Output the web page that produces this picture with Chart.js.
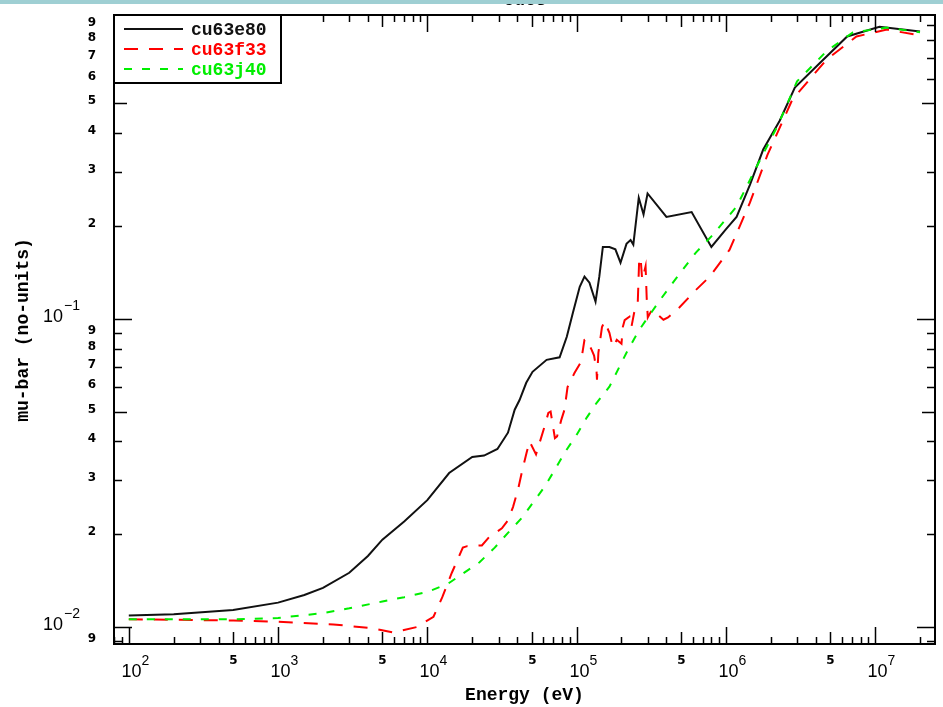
<!DOCTYPE html>
<html>
<head>
<meta charset="utf-8">
<script src="https://cdn.jsdelivr.net/npm/chart.js@4.4.0/dist/chart.umd.min.js"></script>
<style>
  html, body { margin: 0; padding: 0; background: #fff; }
  canvas { display: block; }
</style>
</head>
<body>
<canvas id="chart" width="943" height="707"></canvas>
<script>
// values (energy in eV, mu-bar)
const e80Energy = [100, 200, 500, 1000, 1500, 2000, 3000, 4000, 5000, 7000, 10000, 14000, 20000, 24000, 29500, 34700, 38500, 41500, 46000, 50700, 63000, 77000, 86000, 94500, 105000, 113000, 122000, 134000, 142000, 150000, 166000, 182000, 197000, 216000, 230000, 240000, 261000, 281000, 299000, 400000, 590000, 800000, 1000000, 1180000, 1450000, 1780000, 2300000, 2900000, 4300000, 6500000, 10700000, 20000000];
const e80Mu = [0.0109, 0.0110, 0.01135, 0.0120, 0.0127, 0.0134, 0.0150, 0.0170, 0.0192, 0.0220, 0.0258, 0.0316, 0.0356, 0.0360, 0.0378, 0.0427, 0.0507, 0.0545, 0.0620, 0.0673, 0.0736, 0.0750, 0.0874, 0.1046, 0.127, 0.137, 0.131, 0.1136, 0.137, 0.171, 0.171, 0.168, 0.152, 0.175, 0.180, 0.174, 0.247, 0.218, 0.255, 0.214, 0.222, 0.171, 0.195, 0.214, 0.272, 0.354, 0.440, 0.562, 0.678, 0.824, 0.885, 0.855];

const f33Energy = [100, 500, 1000, 2350, 4300, 5900, 8500, 11000, 12600, 14600, 17300, 18500, 23200, 26000, 31600, 34700, 37500, 40500, 43000, 46200, 48400, 53500, 56000, 61000, 64700, 67000, 71600, 74000, 79000, 83000, 87000, 97000, 107000, 113000, 116000, 126000, 131000, 136000, 137000, 140000, 148000, 154000, 166000, 172000, 176000, 186000, 200000, 204000, 210000, 226000, 233000, 243000, 257000, 263000, 270000, 275000, 283000, 290000, 295000, 300000, 320000, 350000, 382000, 410000, 490000, 630000, 780000, 1060000, 1450000, 1900000, 2790000, 4730000, 7500000, 12000000, 20000000];
const f33Mu = [0.0106, 0.0105, 0.0104, 0.0102, 0.0099, 0.0096, 0.0100, 0.0108, 0.0125, 0.0150, 0.0181, 0.0183, 0.0184, 0.0196, 0.0209, 0.0222, 0.0245, 0.0279, 0.0318, 0.0367, 0.0400, 0.0363, 0.0390, 0.0447, 0.0495, 0.0500, 0.0410, 0.0415, 0.0470, 0.0507, 0.0600, 0.0668, 0.0724, 0.0855, 0.0860, 0.0794, 0.0760, 0.0680, 0.0634, 0.0775, 0.0940, 0.0980, 0.0900, 0.0836, 0.0810, 0.0855, 0.0830, 0.0940, 0.0990, 0.1015, 0.0940, 0.1045, 0.1127, 0.158, 0.152, 0.134, 0.141, 0.148, 0.117, 0.101, 0.107, 0.103, 0.0993, 0.101, 0.109, 0.124, 0.137, 0.1675, 0.238, 0.340, 0.514, 0.693, 0.824, 0.867, 0.830];

const j40Energy = [100, 500, 1000, 2000, 3000, 5000, 7000, 10000, 13700, 17300, 22300, 28300, 34700, 43000, 51000, 61000, 71600, 83000, 100000, 117000, 136000, 166000, 216000, 263000, 309000, 372000, 442000, 630000, 800000, 1180000, 1600000, 2240000, 3000000, 4700000, 7100000, 12000000, 20000000];
const j40Mu = [0.0106, 0.0106, 0.0107, 0.0111, 0.0115, 0.0121, 0.0125, 0.0130, 0.0138, 0.0149, 0.0162, 0.0181, 0.0202, 0.0226, 0.0253, 0.0285, 0.0324, 0.0367, 0.0420, 0.0478, 0.0533, 0.0602, 0.0776, 0.0920, 0.103, 0.117, 0.131, 0.164, 0.185, 0.231, 0.310, 0.426, 0.589, 0.736, 0.849, 0.880, 0.850];

const seriesNames = ["cu63e80", "cu63f33", "cu63j40"];
const seriesColors = ["#111111", "#ff0000", "#00ee00"];
const seriesDashes = [[], [14, 11], [8, 10]];

const xMin = 79.6, xMax = 2.52e7;
const yMin = 0.00881, yMax = 0.967;

function toPoints(xs, ys) {
  return xs.map((x, i) => ({ x: x, y: ys[i] }));
}

// frame, ticks, tick labels, titles and legend
const framePlugin = {
  id: "frame",
  afterDraw(chart) {
    const ctx = chart.ctx;
    const a = chart.chartArea;
    const xs = chart.scales.x;
    const ys = chart.scales.y;
    ctx.save();
    ctx.strokeStyle = "#000";
    ctx.fillStyle = "#000";
    ctx.lineWidth = 2;
    ctx.setLineDash([]);
    ctx.strokeRect(a.left, a.top, a.right - a.left, a.bottom - a.top);

    // x ticks
    ctx.lineWidth = 1.5;
    for (let d = 1; d <= 7; d++) {
      for (let k = 1; k <= 9; k++) {
        const v = k * Math.pow(10, d);
        if (v < xMin || v > xMax) continue;
        const px = Math.round(xs.getPixelForValue(v)) + 0.5;
        const len = k === 1 ? 17 : (k === 5 ? 12 : 7);
        ctx.beginPath();
        ctx.moveTo(px, a.bottom); ctx.lineTo(px, a.bottom - len);
        ctx.moveTo(px, a.top); ctx.lineTo(px, a.top + len);
        ctx.stroke();
        if (k === 1) {
          ctx.font = "18px 'Liberation Sans'";
          ctx.textAlign = "center";
          ctx.textBaseline = "alphabetic";
          ctx.fillText("10", px + 2, 677);
          ctx.font = "14px 'Liberation Sans'";
          ctx.textAlign = "left";
          ctx.fillText(String(d), px + 12, 665);
        } else if (k === 5) {
          ctx.font = "bold 12px 'DejaVu Sans'";
          ctx.textAlign = "center";
          ctx.textBaseline = "middle";
          ctx.fillText("5", px, 661);
        }
      }
    }

    // y ticks
    for (let d = -3; d <= 0; d++) {
      for (let k = 1; k <= 9; k++) {
        const v = k * Math.pow(10, d);
        if (v < yMin || v > yMax) continue;
        const py = Math.round(ys.getPixelForValue(v)) + 0.5;
        const len = k === 1 ? 18 : (k === 5 ? 13 : 8);
        ctx.beginPath();
        ctx.moveTo(a.left, py); ctx.lineTo(a.left + len, py);
        ctx.moveTo(a.right, py); ctx.lineTo(a.right - len, py);
        ctx.stroke();
        if (k === 1) {
          ctx.font = "18px 'Liberation Sans'";
          ctx.textAlign = "right";
          ctx.textBaseline = "alphabetic";
          ctx.fillText("10", 63, py + 2);
          ctx.font = "14px 'Liberation Sans'";
          ctx.textAlign = "left";
          ctx.fillText("\u2212" + String(-d), 64, py - 10);
        } else {
          ctx.font = "bold 12px 'DejaVu Sans'";
          ctx.textAlign = "center";
          ctx.textBaseline = "middle";
          ctx.fillText(String(k), 92, py - 3);
        }
      }
    }

    // axis titles
    ctx.font = "bold 18px 'Liberation Mono'";
    ctx.textAlign = "center";
    ctx.textBaseline = "middle";
    ctx.fillText("Energy (eV)", (a.left + a.right) / 2, 695);
    ctx.save();
    ctx.translate(23, 330);
    ctx.rotate(-Math.PI / 2);
    ctx.fillText("mu-bar (no-units)", 0, 0);
    ctx.restore();

    // legend
    ctx.fillStyle = "#fff";
    ctx.fillRect(a.left + 1, a.top + 1, 166, 67);
    ctx.lineWidth = 2;
    ctx.strokeStyle = "#000";
    ctx.strokeRect(a.left, a.top, 167, 68);
    seriesNames.forEach((name, i) => {
      const y = 29 + i * 20;
      ctx.strokeStyle = seriesColors[i];
      ctx.lineWidth = 2;
      ctx.setLineDash(seriesDashes[i]);
      ctx.beginPath();
      ctx.moveTo(124, y); ctx.lineTo(183, y);
      ctx.stroke();
      ctx.setLineDash([]);
      ctx.fillStyle = seriesColors[i];
      ctx.font = "bold 18px 'Liberation Mono'";
      ctx.textAlign = "left";
      ctx.textBaseline = "middle";
      ctx.fillText(name, 191, y + 1);
    });

    // cut-off title and top band
    ctx.fillStyle = "#000";
    ctx.font = "bold 18px 'Liberation Mono'";
    ctx.textAlign = "center";
    ctx.textBaseline = "alphabetic";
    ctx.fillText("Cu63", 525, 5);
    ctx.fillStyle = "#9fcfd3";
    ctx.fillRect(0, 0, 943, 4);
    ctx.restore();
  }
};

const datasets = [
  toPoints(e80Energy, e80Mu),
  toPoints(f33Energy, f33Mu),
  toPoints(j40Energy, j40Mu)
].map((pts, i) => ({
  label: seriesNames[i],
  data: pts,
  borderColor: seriesColors[i],
  borderWidth: 2,
  borderDash: seriesDashes[i],
  pointRadius: 0,
  tension: 0,
  fill: false,
  order: 3 - i
}));

new Chart(document.getElementById("chart"), {
  type: "line",
  data: { datasets: datasets },
  options: {
    responsive: false,
    animation: false,
    layout: { padding: { left: 114, top: 15, right: 8, bottom: 63 } },
    plugins: { legend: { display: false }, tooltip: { enabled: false }, title: { display: false } },
    scales: {
      x: { type: "logarithmic", min: xMin, max: xMax, display: false },
      y: { type: "logarithmic", min: yMin, max: yMax, display: false }
    }
  },
  plugins: [framePlugin]
});
</script>
</body>
</html>
